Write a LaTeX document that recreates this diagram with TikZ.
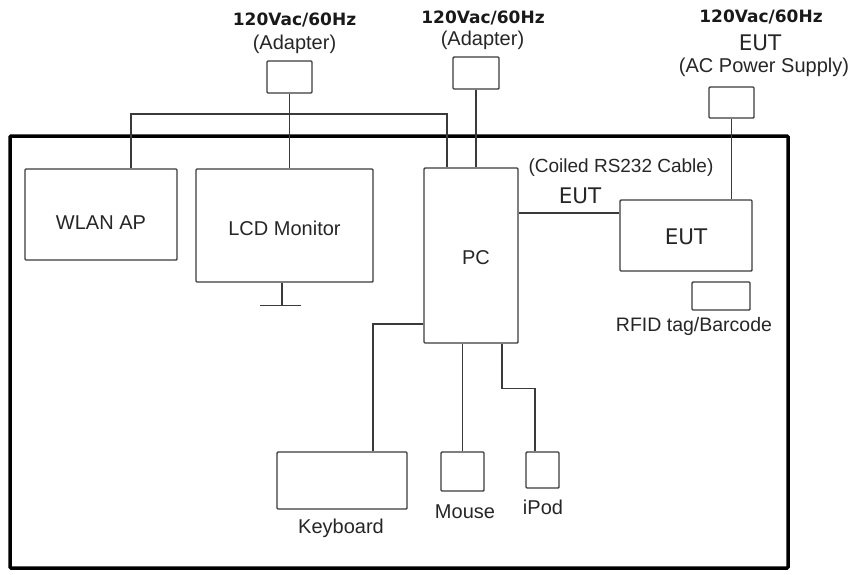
\documentclass[tikz,border=0pt]{standalone}
\usepackage{fontspec}
\setmainfont{Liberation Sans}
\newfontfamily\verdanafont{DejaVu Sans}
\usetikzlibrary{positioning}
\definecolor{linegray}{HTML}{3A3A3A}
\definecolor{textgray}{HTML}{262626}

\tikzset{
  unit/.style={draw=linegray, line width=1.4pt, rounded corners=1pt, inner sep=0pt,
    font=\fontsize{20}{24}\selectfont, text=textgray},
  cable/.style={draw=linegray, line width=1.4pt},
  lbl/.style={font=\fontsize{20}{24}\selectfont, text=textgray, inner sep=0pt},
  mains/.style={font=\verdanafont\bfseries\fontsize{17}{21}\selectfont, text=black!90, inner sep=0pt},
  euttxt/.style={font=\verdanafont\fontsize{21.5}{25}\selectfont, text=textgray, inner sep=0pt},
}

\begin{document}
\begin{tikzpicture}[x=1pt, y=-1pt]
  \useasboundingbox (0,0) rectangle (867,574);

  % Mesa de ensayo
  \draw[black, line width=3.5pt, rounded corners=1pt] (10,136) rectangle (788,568);

  % Equipos
  \node[unit, minimum width=152pt, minimum height=91pt,
    label={[lbl, yshift=-8pt]center:WLAN AP}] (wlan) at (101,214.5) {};
  \node[unit, minimum width=177pt, minimum height=113pt,
    label={[lbl, yshift=-2.5pt]center:LCD Monitor}] (lcd) at (284.5,225.5) {};
  \node[unit, minimum width=94pt, minimum height=175pt,
    label={[lbl, xshift=5pt, yshift=-2.5pt]center:PC}] (pc) at (471,255.5) {};
  \node[unit, minimum width=132pt, minimum height=71pt,
    label={[euttxt, yshift=-1.5pt]center:EUT}] (eut) at (686,235.5) {};
  \node[unit, minimum width=58pt, minimum height=28pt] (rfid) at (721,296) {};
  \node[unit, minimum width=130pt, minimum height=57pt] (kbd) at (342,480.5) {};
  \node[unit, minimum width=43pt, minimum height=39pt] (mouse) at (462.5,471.5) {};
  \node[unit, minimum width=33pt, minimum height=36pt] (ipod) at (542.5,470) {};

  % Fuentes de red
  \node[unit, minimum width=45pt, minimum height=32pt] (adp1) at (289.5,77) {};
  \node[unit, minimum width=46pt, minimum height=32pt] (adp2) at (476,73) {};
  \node[unit, minimum width=45pt, minimum height=31pt] (adp3) at (731.5,102.5) {};

  % Textos
  \node[mains] (adp1v) at (294.5,20) {120Vac/60Hz};
  \node[lbl] (adp1n) at (294.5,44) {(Adapter)};
  \node[mains] (adp2v) at (483,18) {120Vac/60Hz};
  \node[lbl] (adp2n) at (482.5,40) {(Adapter)};
  \node[mains] (adp3v) at (761,17) {120Vac/60Hz};
  \node[euttxt] (adp3e) at (760,43) {EUT};
  \node[lbl] (adp3n) at (764,67) {(AC Power Supply)};
  \node[lbl, font=\fontsize{19}{23}\selectfont] (rscable) at (621,168) {(Coiled RS232 Cable)};
  \node[euttxt] (rseut) at (580,196) {EUT};
  \node[lbl, font=\fontsize{19.5}{23}\selectfont] (rfidl) at (694,326) {RFID tag/Barcode};
  \node[lbl] (kbdl) at (341,528) {Keyboard};
  \node[lbl] (mousel) at (465,512) {Mouse};
  \node[lbl] (ipodl) at (543,507) {iPod};

  % Cables
  \draw[cable] (adp1.south) -- (adp1.south |- lcd.north);
  \draw[cable] ([xshift=30pt]wlan.north) |- (447,114) -- (447,114 |- pc.north);
  \draw[cable] (adp2.south) -- (adp2.south |- pc.north);
  \draw[cable] (adp3.south) -- (adp3.south |- eut.north);
  \draw[cable] ([yshift=22.5pt]eut.west) -- ([yshift=22.5pt]eut.west -| pc.east);
  \draw[cable] ([yshift=-68.5pt]pc.west) -| ([xshift=31pt]kbd.north);
  \draw[cable] (mouse.north |- pc.south) -- (mouse.north);
  \draw[cable] ([xshift=31pt]pc.south) -- ++(0,45) -| ([xshift=-7.5pt]ipod.north);

  % Pie del monitor
  \draw[cable] ([xshift=-2.5pt]lcd.south) -- ++(0,23) coordinate (foot);
  \draw[cable] ([xshift=-22pt]foot) -- ([xshift=19pt]foot);
\end{tikzpicture}
\end{document}
